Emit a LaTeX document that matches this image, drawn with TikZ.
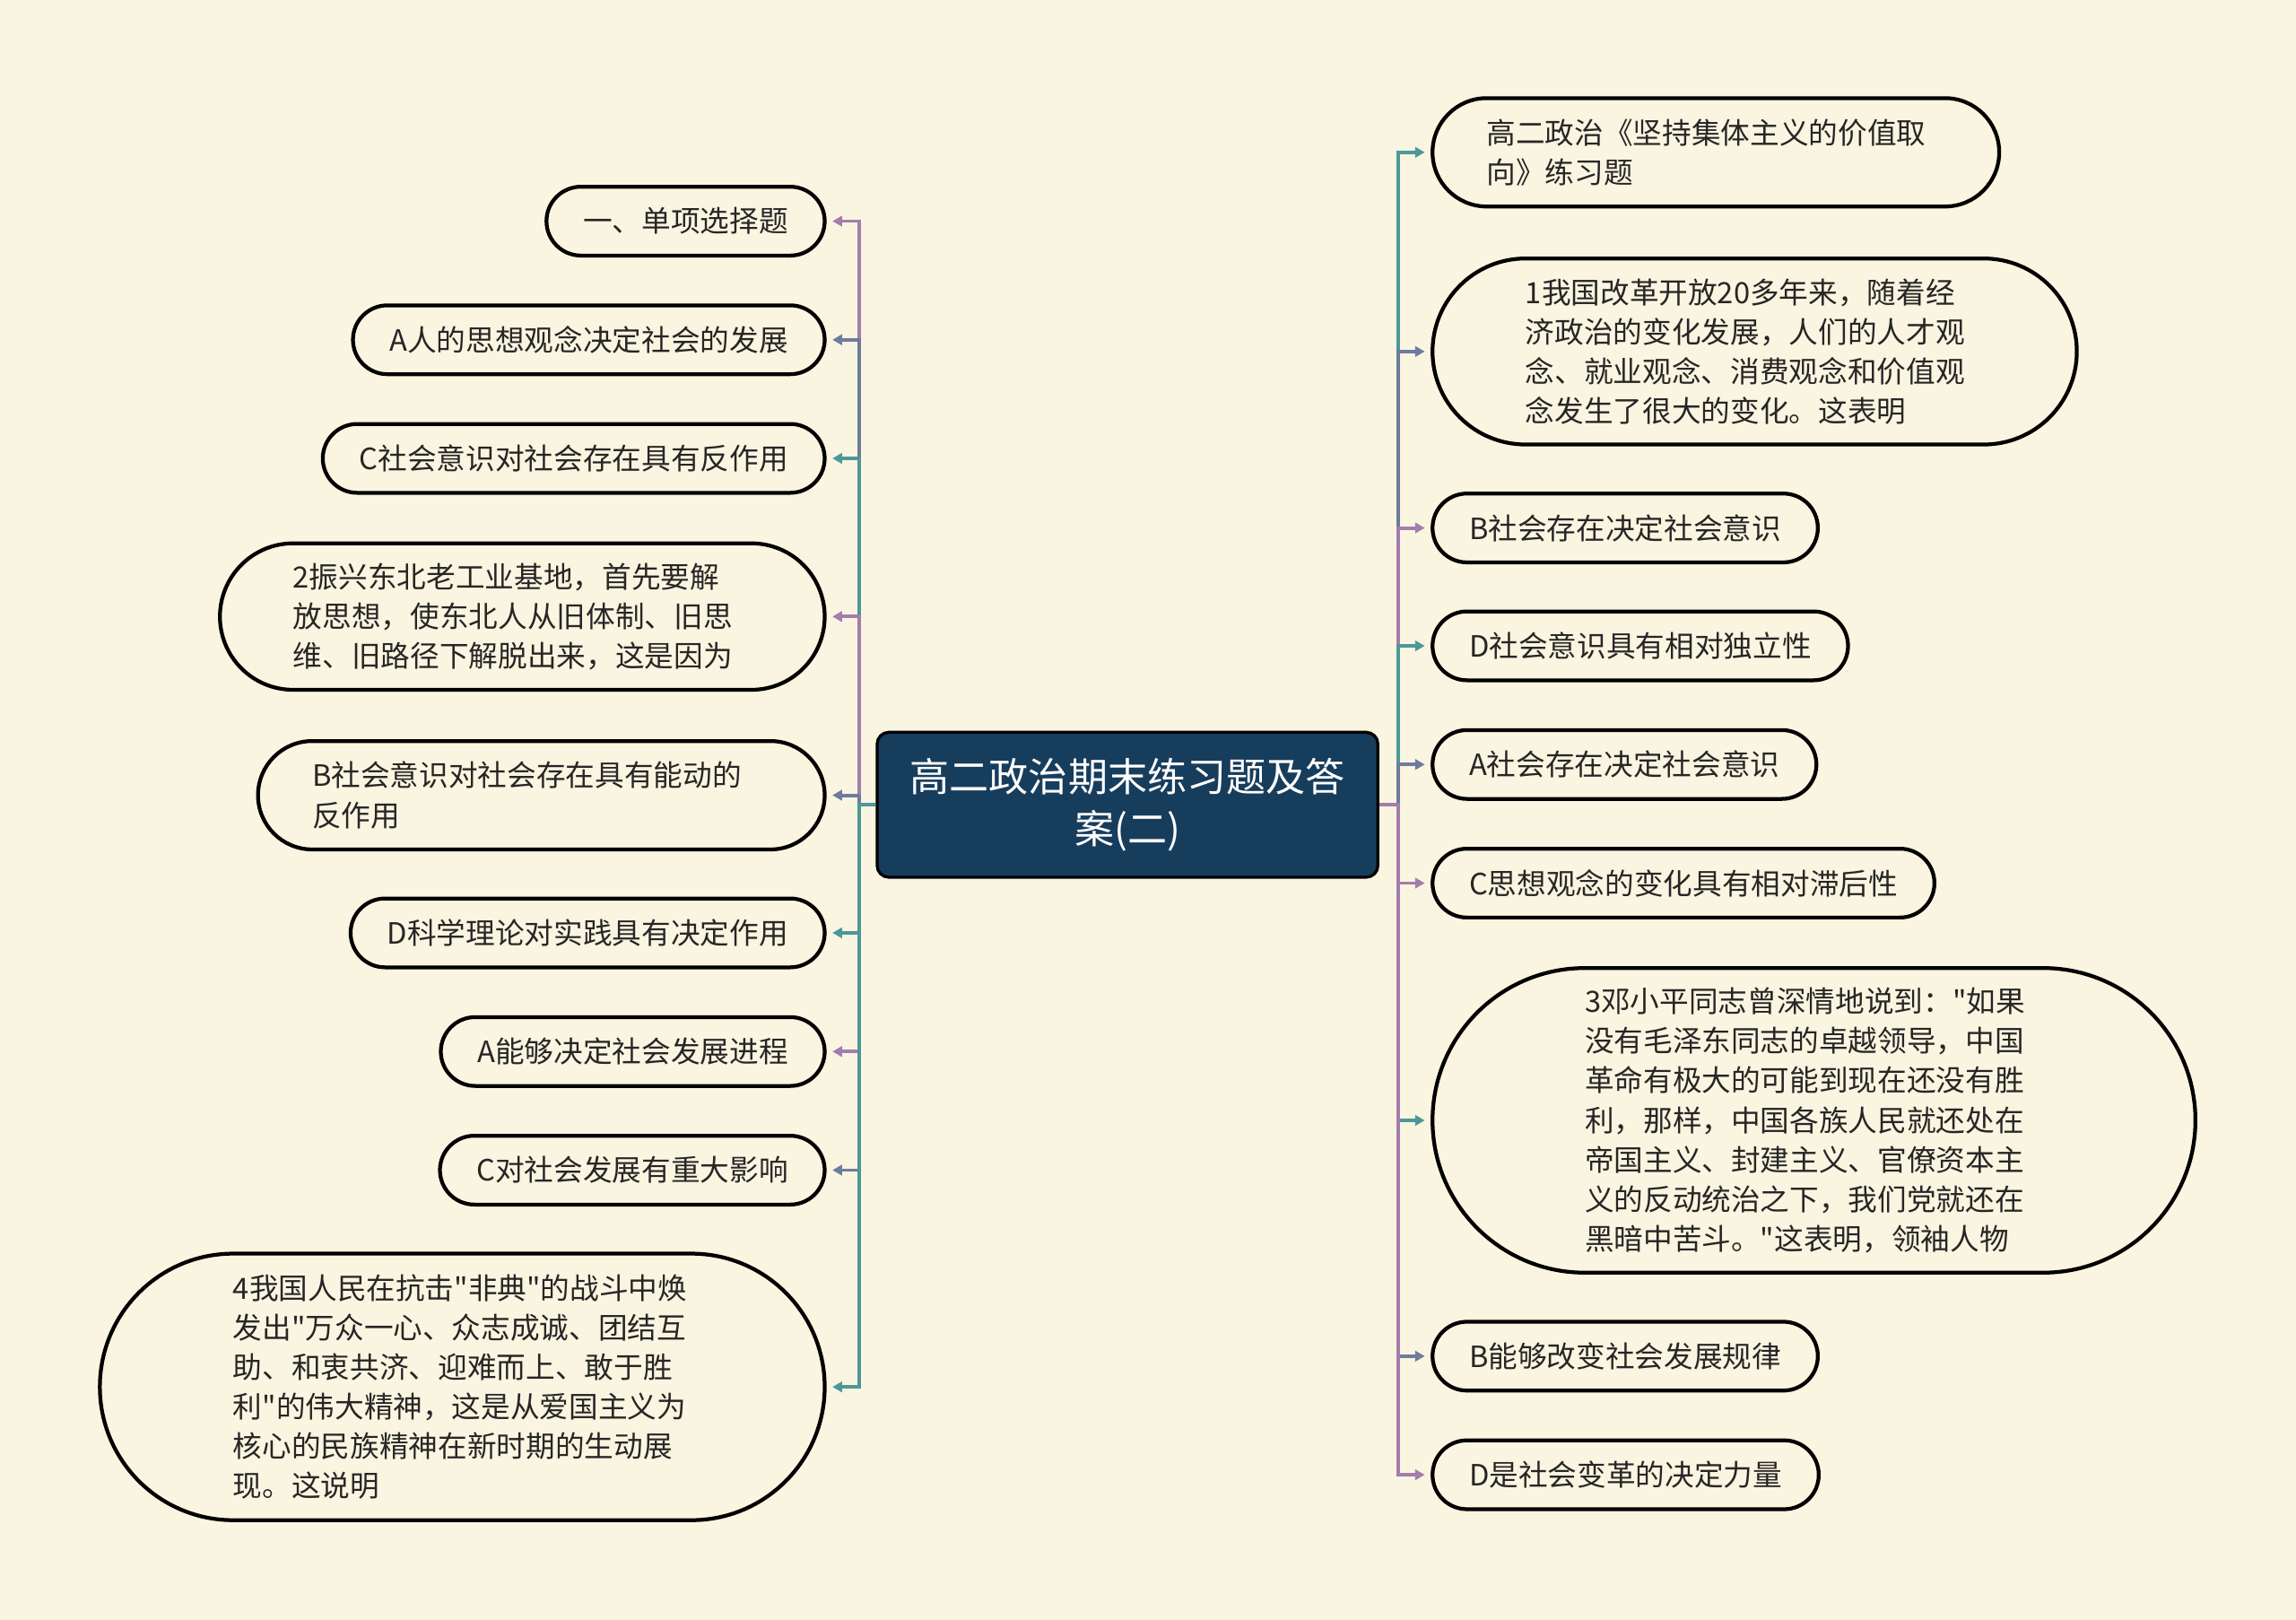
\documentclass[tikz,border=0pt]{standalone}
\usepackage{fontspec}
\setmainfont{Noto Sans CJK SC}[Ligatures=TeXOff]
\usetikzlibrary{arrows.meta}

\definecolor{paper}{HTML}{FAF5E0}
\definecolor{ink}{HTML}{262626}
\definecolor{navy}{HTML}{173D5C}
\definecolor{blilac}{HTML}{A27DAE}
\definecolor{bslate}{HTML}{6D7B9C}
\definecolor{bteal}{HTML}{4C9898}

\begin{document}
\begin{tikzpicture}[
    x=1pt, y=-1pt,
    root/.style={draw=black, line width=2pt, fill=navy, text=white, rounded corners=8pt,
      minimum width=342pt, minimum height=99pt, align=center,
      font=\fontsize{27pt}{35pt}\selectfont},
    leaf/.style={draw=black, line width=2.6pt, fill=paper, text=ink, inner ysep=0pt,
      font=\fontsize{20pt}{27pt}\selectfont},
    pill/.style={minimum height=#1, inner xsep=#1/2, rounded corners=#1/2},
    pill/.default=47pt,
    single/.style={pill, inner xsep=25pt},
    wrap/.style={text width=313pt, align=left},
    lleaf/.style={leaf, anchor=east},
    rleaf/.style={leaf, anchor=west},
    conn/.style={line width=2.4pt, -{Triangle[length=6.5pt, width=7pt]}, shorten >=4pt},
  ]
    % Background and page size
    \fill[paper] (0,0) rectangle (1568,1106);
    \useasboundingbox (0,0) rectangle (1568,1106);

    % Root
    \node[root] (root) at (770,549.5) {高二政治期末练习题及答\\案(二)};
    \coordinate (lt) at (587,549.5);
    \coordinate (rt) at (955,549.5);

    % Left branches
    \node[lleaf, single] (l1) at (564.5,151) {一、单项选择题};
    \node[lleaf, single] (l2) at (564.5,232) {A人的思想观念决定社会的发展};
    \node[lleaf, single] (l3) at (564.5,313) {C社会意识对社会存在具有反作用};
    \node[lleaf, pill=100pt, wrap] (l4) at (564.5,421)
      {2振兴东北老工业基地，首先要解\\放思想，使东北人从旧体制、旧思\\维、旧路径下解脱出来，这是因为};
    \node[lleaf, pill=74pt, wrap] (l5) at (564.5,543)
      {B社会意识对社会存在具有能动的\\反作用};
    \node[lleaf, single] (l6) at (564.5,637) {D科学理论对实践具有决定作用};
    \node[lleaf, single] (l7) at (564.5,718) {A能够决定社会发展进程};
    \node[lleaf, single] (l8) at (564.5,799) {C对社会发展有重大影响};
    \node[lleaf, pill=182pt, wrap] (l9) at (564.5,947)
      {4我国人民在抗击"非典"的战斗中焕\\发出"万众一心、众志成诚、团结互\\助、和衷共济、迎难而上、敢于胜\\利"的伟大精神，这是从爱国主义为\\核心的民族精神在新时期的生动展\\现。这说明};

    % Right branches
    \node[rleaf, pill=74pt, wrap] (r1) at (977,104)
      {高二政治《坚持集体主义的价值取\\向》练习题};
    \node[rleaf, pill=127pt, wrap] (r2) at (977,240)
      {1我国改革开放20多年来，随着经\\济政治的变化发展，人们的人才观\\念、就业观念、消费观念和价值观\\念发生了很大的变化。这表明};
    \node[rleaf, single] (r3) at (977,360.5) {B社会存在决定社会意识};
    \node[rleaf, single] (r4) at (977,441) {D社会意识具有相对独立性};
    \node[rleaf, single] (r5) at (977,522) {A社会存在决定社会意识};
    \node[rleaf, single] (r6) at (977,603) {C思想观念的变化具有相对滞后性};
    \node[rleaf, pill=208pt, wrap] (r7) at (977,765)
      {3邓小平同志曾深情地说到："如果\\没有毛泽东同志的卓越领导，中国\\革命有极大的可能到现在还没有胜\\利，那样，中国各族人民就还处在\\帝国主义、封建主义、官僚资本主\\义的反动统治之下，我们党就还在\\黑暗中苦斗。"这表明，领袖人物};
    \node[rleaf, single] (r8) at (977,926) {B能够改变社会发展规律};
    \node[rleaf, single] (r9) at (977,1007) {D是社会变革的决定力量};

    % Connectors
    \foreach \leafname/\col in {l1/blilac, l2/bslate, l3/bteal, l4/blilac, l5/bslate,
        l6/bteal, l7/blilac, l8/bslate, l9/bteal}
      \draw[conn, draw=\col] (root.west) -- (lt) |- (\leafname.east);
    \foreach \leafname/\col in {r1/bteal, r2/bslate, r3/blilac, r4/bteal, r5/bslate,
        r6/blilac, r7/bteal, r8/bslate, r9/blilac}
      \draw[conn, draw=\col] (root.east) -- (rt) |- (\leafname.west);
\end{tikzpicture}
\end{document}
